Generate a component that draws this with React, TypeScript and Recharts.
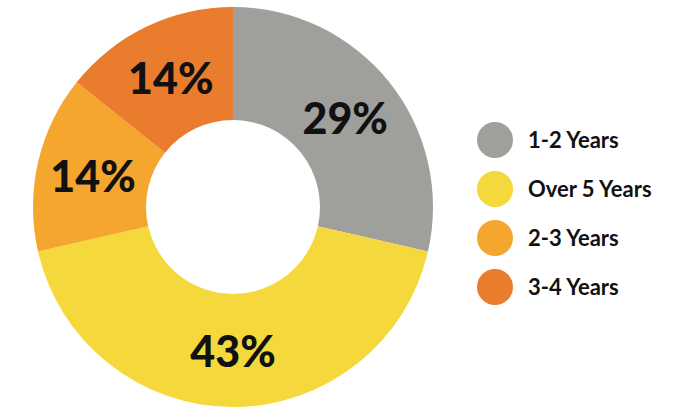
import { PieChart, Pie, Cell, Legend } from 'recharts';

const categories = ['1-2 Years', 'Over 5 Years', '2-3 Years', '3-4 Years'];
const counts = [2, 3, 1, 1];
const colors = ['#9fa09b', '#f5d83b', '#f4a62e', '#ea7c2e'];

const data = categories.map((name, i) => ({ name, value: counts[i] }));

const RADIAN = Math.PI / 180;

function renderLabel(props: any) {
  const { cx, cy, midAngle, innerRadius, outerRadius, percent } = props;
  const r = (innerRadius + outerRadius) / 2;
  const x = cx + r * Math.cos(-midAngle * RADIAN);
  const y = cy + r * Math.sin(-midAngle * RADIAN);
  return (
    <text
      x={x}
      y={y}
      fill="#111"
      textAnchor="middle"
      dominantBaseline="central"
      fontFamily="Lato, sans-serif"
      fontWeight={900}
      fontSize={43}
    >
      {`${Math.round(percent * 100)}%`}
    </text>
  );
}

function renderLegend() {
  return (
    <div>
      {categories.map((name, i) => (
        <div key={name} style={{ display: 'flex', alignItems: 'center', height: 49 }}>
          <span
            style={{
              width: 36,
              height: 36,
              borderRadius: '50%',
              background: colors[i],
              display: 'inline-block',
              marginRight: 15,
            }}
          />
          <span style={{ fontFamily: 'Lato, sans-serif', fontWeight: 700, fontSize: 22, color: '#111' }}>
            {name}
          </span>
        </div>
      ))}
    </div>
  );
}

export default function App() {
  return (
    <div style={{ position: 'absolute', left: 0, top: 0, background: '#fff' }}>
      <PieChart width={696} height={417} margin={{ top: 0, right: 0, bottom: 0, left: 0 }}>
        <Pie
          data={data}
          dataKey="value"
          cx={233}
          cy={207}
          innerRadius={87}
          outerRadius={200}
          startAngle={90}
          endAngle={-270}
          stroke="none"
          label={renderLabel}
          labelLine={false}
          isAnimationActive={false}
        >
          {data.map((d, i) => (
            <Cell key={d.name} fill={colors[i]} />
          ))}
        </Pie>
        <Legend
          content={renderLegend}
          layout="vertical"
          wrapperStyle={{ left: 477, top: 115, width: 220 }}
        />
      </PieChart>
    </div>
  );
}
